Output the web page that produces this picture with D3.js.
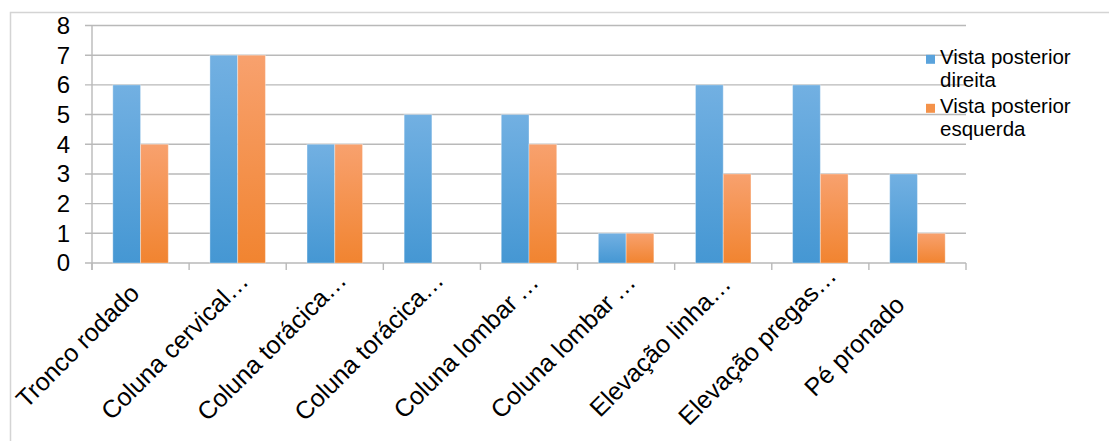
<!DOCTYPE html>
<html>
<head>
<meta charset="utf-8">
<script src="https://cdn.jsdelivr.net/npm/d3@7"></script>
<style>
  html, body { margin: 0; padding: 0; background: #fff; }
  svg { display: block; font-family: "Liberation Sans", Arial, Helvetica, sans-serif; }
</style>
</head>
<body>
<svg id="chart" width="1109" height="441"></svg>
<script>
// Postural findings counted per view
const categories = [
  "Tronco rodado",
  "Coluna cervical…",
  "Coluna torácica…",
  "Coluna torácica…",
  "Coluna lombar\u2009…",
  "Coluna lombar\u2009…",
  "Elevação linha…",
  "Elevação pregas…",
  "Pé pronado"
];
const seriesNames = ["Vista posterior direita", "Vista posterior esquerda"];
const direita = [6, 7, 4, 5, 5, 1, 6, 6, 3];
const esquerda = [4, 7, 4, 0, 4, 1, 3, 3, 1];
const yTicks = [0, 1, 2, 3, 4, 5, 6, 7, 8];

const svg = d3.select("#chart");
const W = 1109, H = 441;

// outer frame
svg.append("path")
  .attr("d", `M10.5,${H} L10.5,12.5 L${W},12.5`)
  .attr("fill", "none").attr("stroke", "#d4d4d4").attr("stroke-width", 1.5);

const plot = { left: 92, right: 966, top: 25.5, bottom: 263 };

const x = d3.scaleBand().domain(d3.range(categories.length))
  .range([plot.left, plot.right]).paddingInner(0).paddingOuter(0);
const y = d3.scaleLinear().domain([0, 8]).range([plot.bottom, plot.top]);

const barW = x.bandwidth() / 3.5;
const sub = d3.scaleBand().domain([0, 1])
  .range([x.bandwidth() / 2 - barW, x.bandwidth() / 2 + barW]);

// gradients
const defs = svg.append("defs");
const grads = [
  { id: "gBlue", top: "#72b0e2", bottom: "#4597d3" },
  { id: "gOrange", top: "#f8a16e", bottom: "#f18430" }
];
grads.forEach(g => {
  const lg = defs.append("linearGradient").attr("id", g.id)
    .attr("x1", 0).attr("y1", 0).attr("x2", 0).attr("y2", 1);
  lg.append("stop").attr("offset", "0%").attr("stop-color", g.top);
  lg.append("stop").attr("offset", "100%").attr("stop-color", g.bottom);
});

// gridlines
svg.append("g").selectAll("line").data(yTicks).join("line")
  .attr("x1", plot.left - 7).attr("x2", plot.right)
  .attr("y1", d => y(d)).attr("y2", d => y(d))
  .attr("stroke", "#b9b9b9").attr("stroke-width", 1.4);

// y axis line
svg.append("line")
  .attr("x1", plot.left).attr("x2", plot.left)
  .attr("y1", y(8)).attr("y2", plot.bottom + 7)
  .attr("stroke", "#b9b9b9").attr("stroke-width", 1.4);

// category ticks
svg.append("g").selectAll("line").data(d3.range(categories.length + 1)).join("line")
  .attr("x1", i => plot.left + i * x.step()).attr("x2", i => plot.left + i * x.step())
  .attr("y1", plot.bottom).attr("y2", plot.bottom + 7)
  .attr("stroke", "#b9b9b9").attr("stroke-width", 1.4);

// y tick labels
svg.append("g").selectAll("text").data(yTicks).join("text")
  .attr("x", 70).attr("y", d => y(d))
  .attr("dy", "0.35em").attr("text-anchor", "end")
  .attr("font-size", 24).attr("fill", "#000")
  .text(d => d);

// bars
const series = [direita, esquerda];
series.forEach((vals, s) => {
  svg.append("g").selectAll("rect").data(vals).join("rect")
    .attr("x", (d, i) => x(i) + sub(s))
    .attr("width", sub.bandwidth())
    .attr("y", d => y(d))
    .attr("height", d => y(0) - y(d))
    .attr("fill", `url(#${grads[s].id})`)
    .attr("stroke", "rgba(255,255,255,0.35)").attr("stroke-width", 1);
});

// category labels, rotated
svg.append("g").selectAll("text").data(categories).join("text")
  .attr("transform", (d, i) =>
    `translate(${x(i) + x.bandwidth() / 2 - 57},352) rotate(-45)`)
  .attr("text-anchor", "middle")
  .attr("font-size", 25).attr("fill", "#000")
  .text(d => d);

// legend
const legendColors = ["#5aa3dc", "#f4924a"];
const legendLines = [["Vista posterior", "direita"], ["Vista posterior", "esquerda"]];
const lg = svg.append("g");
legendLines.forEach((lines, s) => {
  const base = 64.3 + s * 49;
  lg.append("rect").attr("x", 926).attr("y", base - 9.5).attr("width", 9).attr("height", 9)
    .attr("fill", legendColors[s]);
  lines.forEach((t, j) => {
    lg.append("text")
      .attr("x", 940).attr("y", base + j * 23)
      .attr("font-size", 20.5).attr("fill", "#000").text(t);
  });
});
</script>
</body>
</html>
